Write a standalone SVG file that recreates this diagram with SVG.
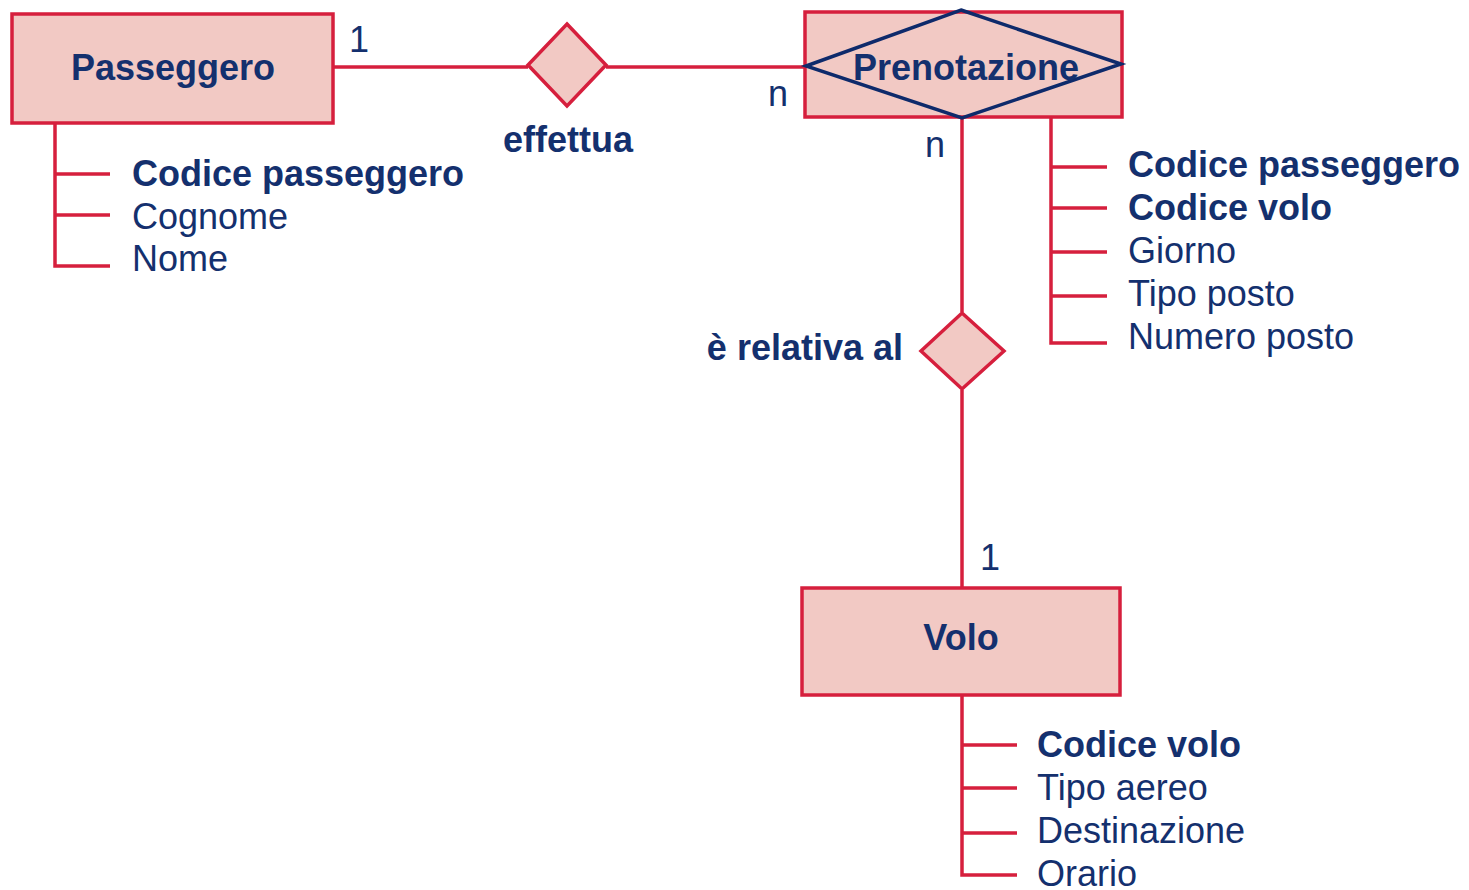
<svg xmlns="http://www.w3.org/2000/svg" width="1469" height="890" viewBox="0 0 1469 890">
<style>
.ent{fill:#f2c9c4;stroke:#d61f3d;stroke-width:3.5}
.rel{fill:#f2c9c4;stroke:#d61f3d;stroke-width:3.5;stroke-linejoin:miter}
.ln{fill:none;stroke:#d61f3d;stroke-width:3.5}
.t{font-family:"Liberation Sans",Arial,sans-serif;font-size:36px;fill:#14306e}
.b{font-weight:bold}
.m{text-anchor:middle}
</style>
<rect width="1469" height="890" fill="#ffffff"/>
<g id="connectors">
<line class="ln" x1="333" y1="67" x2="528" y2="67"/>
<line class="ln" x1="606" y1="67" x2="805" y2="67"/>
<line class="ln" x1="962" y1="117" x2="962" y2="312"/>
<line class="ln" x1="962" y1="390" x2="962" y2="587"/>
<text class="t" x="349" y="52" font-size="30">1</text>
<text class="t" x="768" y="106" font-size="30">n</text>
<text class="t" x="925" y="157" font-size="30">n</text>
<text class="t" x="980" y="570" font-size="30">1</text>
</g>
<g id="passeggero">
<rect class="ent" x="12" y="14" width="321" height="109"/>
<text class="t b m" x="173" y="80">Passeggero</text>
<path class="ln" d="M55 123 V266 H110 M55 174 H110 M55 215 H110"/>
<text class="t b" x="132" y="186">Codice passeggero</text>
<text class="t" x="132" y="229">Cognome</text>
<text class="t" x="132" y="271">Nome</text>
</g>
<g id="effettua">
<polygon class="rel" points="567,24 606,65 567,106 528,65"/>
<text class="t b m" x="568" y="152">effettua</text>
</g>
<g id="prenotazione">
<rect class="ent" x="805" y="12" width="317" height="105"/>
<polygon points="961,10 1121,64 962,118 806,66" fill="none" stroke="#0e2a6b" stroke-width="3.5"/>
<text class="t b m" x="966" y="80">Prenotazione</text>
<path class="ln" d="M1051 117 V343 H1107 M1051 167 H1107 M1051 208 H1107 M1051 252 H1107 M1051 296 H1107"/>
<text class="t b" x="1128" y="177">Codice passeggero</text>
<text class="t b" x="1128" y="220">Codice volo</text>
<text class="t" x="1128" y="263">Giorno</text>
<text class="t" x="1128" y="306">Tipo posto</text>
<text class="t" x="1128" y="349">Numero posto</text>
</g>
<g id="relativa">
<polygon class="rel" points="962,313 1004,351 962,389 921,351"/>
<text class="t b" x="903" y="360" text-anchor="end">è relativa al</text>
</g>
<g id="volo">
<rect class="ent" x="802" y="588" width="318" height="107"/>
<text class="t b m" x="961" y="650">Volo</text>
<path class="ln" d="M962 695 V875 H1017 M962 745 H1017 M962 788 H1017 M962 833 H1017"/>
<text class="t b" x="1037" y="757">Codice volo</text>
<text class="t" x="1037" y="800">Tipo aereo</text>
<text class="t" x="1037" y="843">Destinazione</text>
<text class="t" x="1037" y="886">Orario</text>
</g>
</svg>
